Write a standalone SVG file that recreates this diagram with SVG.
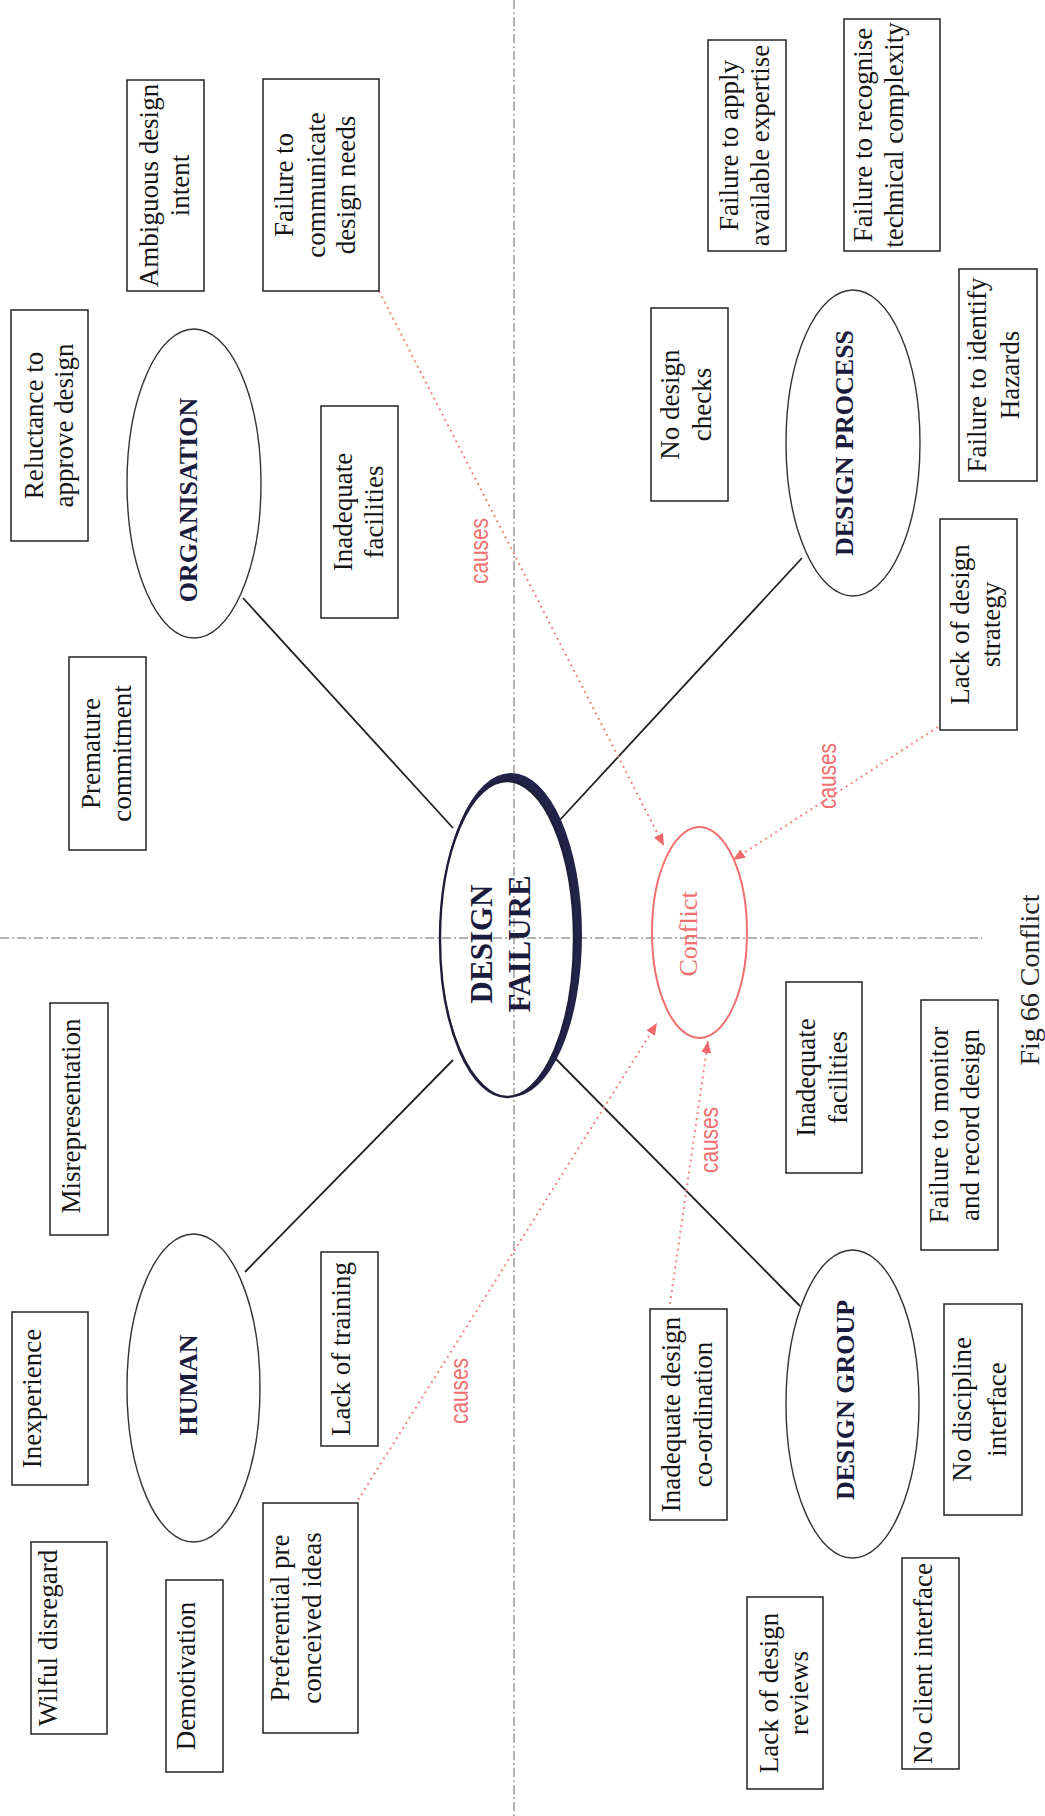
<svg xmlns="http://www.w3.org/2000/svg" width="1045" height="1816" viewBox="0 0 1045 1816">
  <style>
    .bg { fill: #ffffff; }
    .guide { stroke: #666; stroke-width: 1; stroke-dasharray: 9 3 2 3; fill: none; }
    .link { stroke: #222; stroke-width: 1.8; fill: none; }
    .cause { stroke: #f08585; stroke-width: 2; stroke-dasharray: 2 4; fill: none; }
    .box { fill: #ffffff; stroke: #222; stroke-width: 1.5; }
    .oval { fill: none; stroke: #333; stroke-width: 1.4; }
    .t { font-family: "Liberation Serif", "Times New Roman", serif; font-size: 27px; fill: #151515; text-anchor: middle; }
    .hd { font-family: "Liberation Serif", "Times New Roman", serif; font-size: 26px; font-weight: bold; fill: #1b1b3d; text-anchor: middle; }
    .red { font-family: "Liberation Sans", Arial, sans-serif; font-size: 26px; fill: #f07070; text-anchor: middle; }
    .cap { font-family: "Liberation Serif", "Times New Roman", serif; font-size: 28px; fill: #222; text-anchor: middle; }
  </style>
  <defs>
    <marker id="arrow" viewBox="0 0 12 10" refX="12" refY="5" markerWidth="12" markerHeight="10" markerUnits="userSpaceOnUse" orient="auto">
      <path d="M0,0 L12,5 L0,10 z" fill="#ee6a6a"/>
    </marker>
  </defs>

  <rect class="bg" x="0" y="0" width="1045" height="1816"/>

  <!-- quadrant guides -->
  <g id="guides">
    <line class="guide" x1="514" y1="0" x2="514" y2="1816"/>
    <line class="guide" x1="0" y1="938" x2="982" y2="938"/>
  </g>

  <!-- connectors -->
  <g id="connectors">
    <line class="link" x1="243" y1="598" x2="453" y2="828"/>
    <line class="link" x1="802" y1="558" x2="558" y2="822"/>
    <line class="link" x1="245" y1="1272" x2="453" y2="1060"/>
    <line class="link" x1="800" y1="1306" x2="555" y2="1058"/>

    <line class="cause" x1="379" y1="291" x2="664" y2="846" marker-end="url(#arrow)"/>
    <line class="cause" x1="938" y1="727" x2="733" y2="860" marker-end="url(#arrow)"/>
    <line class="cause" x1="358" y1="1500" x2="657" y2="1023" marker-end="url(#arrow)"/>
    <line class="cause" x1="670" y1="1304" x2="708" y2="1041" marker-end="url(#arrow)"/>

    <text class="red" transform="translate(488,551) rotate(-90)" textLength="66" lengthAdjust="spacingAndGlyphs">causes</text>
    <text class="red" transform="translate(836,776) rotate(-90)" textLength="66" lengthAdjust="spacingAndGlyphs">causes</text>
    <text class="red" transform="translate(718,1140) rotate(-90)" textLength="66" lengthAdjust="spacingAndGlyphs">causes</text>
    <text class="red" transform="translate(468,1391) rotate(-90)" textLength="66" lengthAdjust="spacingAndGlyphs">causes</text>
  </g>

  <!-- central node -->
  <g id="design-failure">
    <path d="M440,939 a67,158 0 1,0 134,0 a67,158 0 1,0 -134,0 Z M440,935 a71,162 0 1,0 142,0 a71,162 0 1,0 -142,0 Z" fill="#23234a" fill-rule="evenodd"/>
    <ellipse cx="507" cy="939" rx="67" ry="158" fill="none" stroke="#1e1e3a" stroke-width="2.4"/>
    <text class="hd" style="font-size:31px" transform="translate(492,944) rotate(-90)">DESIGN</text>
    <text class="hd" style="font-size:31px" transform="translate(530,944) rotate(-90)">FAILURE</text>
  </g>

  <g id="conflict">
    <ellipse cx="699.5" cy="932.5" rx="47.5" ry="105.5" fill="none" stroke="#f07070" stroke-width="2"/>
    <text class="t" style="fill:#f07070;font-size:26px" transform="translate(697,934) rotate(-90)">Conflict</text>
  </g>

  <!-- category ovals -->
  <g id="organisation">
    <ellipse class="oval" cx="194" cy="483.5" rx="67" ry="154.5"/>
    <text class="hd" transform="translate(197,500) rotate(-90)">ORGANISATION</text>
  </g>
  <g id="design-process">
    <ellipse class="oval" cx="853" cy="443" rx="67" ry="153"/>
    <text class="hd" transform="translate(853,443) rotate(-90)">DESIGN PROCESS</text>
  </g>
  <g id="human">
    <ellipse class="oval" cx="193.5" cy="1388" rx="66.5" ry="154"/>
    <text class="hd" transform="translate(197,1385) rotate(-90)">HUMAN</text>
  </g>
  <g id="design-group">
    <ellipse class="oval" cx="852.5" cy="1404" rx="66.5" ry="154"/>
    <text class="hd" transform="translate(854,1400) rotate(-90)">DESIGN GROUP</text>
  </g>

  <!-- organisation causes -->
  <g id="reluctance">
    <rect class="box" x="11" y="310" width="77" height="231"/>
    <text class="t" transform="translate(43,425.5) rotate(-90)"><tspan x="0" y="0">Reluctance to</tspan><tspan x="0" y="30">approve design</tspan></text>
  </g>
  <g id="ambiguous-intent">
    <rect class="box" x="127" y="80" width="77" height="211"/>
    <text class="t" transform="translate(158,185.5) rotate(-90)"><tspan x="0" y="0">Ambiguous design</tspan><tspan x="0" y="31">intent</tspan></text>
  </g>
  <g id="communicate-needs">
    <rect class="box" x="263" y="79" width="116" height="212"/>
    <text class="t" transform="translate(293,185) rotate(-90)"><tspan x="0" y="0">Failure to</tspan><tspan x="0" y="32">communicate</tspan><tspan x="0" y="62">design needs</tspan></text>
  </g>
  <g id="premature-commitment">
    <rect class="box" x="69" y="657" width="77" height="193"/>
    <text class="t" transform="translate(100,753.5) rotate(-90)"><tspan x="0" y="0">Premature</tspan><tspan x="0" y="31">commitment</tspan></text>
  </g>
  <g id="org-facilities">
    <rect class="box" x="321" y="406" width="77" height="212"/>
    <text class="t" transform="translate(352,512) rotate(-90)"><tspan x="0" y="0">Inadequate</tspan><tspan x="0" y="31">facilities</tspan></text>
  </g>

  <!-- human causes -->
  <g id="misrepresentation">
    <rect class="box" x="50" y="1003" width="58" height="232"/>
    <text class="t" transform="translate(80,1116) rotate(-90)">Misrepresentation</text>
  </g>
  <g id="inexperience">
    <rect class="box" x="12" y="1312" width="76" height="173"/>
    <text class="t" transform="translate(41,1398.5) rotate(-90)">Inexperience</text>
  </g>
  <g id="wilful-disregard">
    <rect class="box" x="31" y="1542" width="76" height="192"/>
    <text class="t" transform="translate(57,1638) rotate(-90)">Wilful disregard</text>
  </g>
  <g id="demotivation">
    <rect class="box" x="166" y="1580" width="57" height="192"/>
    <text class="t" transform="translate(195,1676) rotate(-90)">Demotivation</text>
  </g>
  <g id="lack-of-training">
    <rect class="box" x="321" y="1252" width="57" height="194"/>
    <text class="t" transform="translate(350,1349) rotate(-90)">Lack of training</text>
  </g>
  <g id="preconceived-ideas">
    <rect class="box" x="263" y="1503" width="95" height="230"/>
    <text class="t" transform="translate(289,1618) rotate(-90)"><tspan x="0" y="0">Preferential pre</tspan><tspan x="0" y="32">conceived ideas</tspan></text>
  </g>

  <!-- design process causes -->
  <g id="apply-expertise">
    <rect class="box" x="708" y="40" width="78" height="211"/>
    <text class="t" transform="translate(738,145.5) rotate(-90)"><tspan x="0" y="0">Failure to apply</tspan><tspan x="0" y="31">available expertise</tspan></text>
  </g>
  <g id="technical-complexity">
    <rect class="box" x="844" y="19" width="96" height="232"/>
    <text class="t" transform="translate(872,135) rotate(-90)"><tspan x="0" y="0">Failure to recognise</tspan><tspan x="0" y="31">technical complexity</tspan></text>
  </g>
  <g id="design-checks">
    <rect class="box" x="651" y="308" width="77" height="193"/>
    <text class="t" transform="translate(679,404.5) rotate(-90)"><tspan x="0" y="0">No design</tspan><tspan x="0" y="32">checks</tspan></text>
  </g>
  <g id="identify-hazards">
    <rect class="box" x="959" y="269" width="78" height="212"/>
    <text class="t" transform="translate(986,375) rotate(-90)"><tspan x="0" y="0">Failure to identify</tspan><tspan x="0" y="33">Hazards</tspan></text>
  </g>
  <g id="design-strategy">
    <rect class="box" x="940" y="519" width="77" height="211"/>
    <text class="t" transform="translate(969,624.5) rotate(-90)"><tspan x="0" y="0">Lack of design</tspan><tspan x="0" y="31">strategy</tspan></text>
  </g>

  <!-- design group causes -->
  <g id="group-facilities">
    <rect class="box" x="786" y="982" width="76" height="191"/>
    <text class="t" transform="translate(815,1077.5) rotate(-90)"><tspan x="0" y="0">Inadequate</tspan><tspan x="0" y="32">facilities</tspan></text>
  </g>
  <g id="monitor-record">
    <rect class="box" x="921" y="1000" width="77" height="250"/>
    <text class="t" transform="translate(948,1125) rotate(-90)"><tspan x="0" y="0">Failure to monitor</tspan><tspan x="0" y="31">and record design</tspan></text>
  </g>
  <g id="design-coordination">
    <rect class="box" x="650" y="1309" width="77" height="211"/>
    <text class="t" transform="translate(680,1414.5) rotate(-90)"><tspan x="0" y="0">Inadequate design</tspan><tspan x="0" y="32">co-ordination</tspan></text>
  </g>
  <g id="discipline-interface">
    <rect class="box" x="944" y="1304" width="78" height="211"/>
    <text class="t" transform="translate(971,1409.5) rotate(-90)"><tspan x="0" y="0">No discipline</tspan><tspan x="0" y="35">interface</tspan></text>
  </g>
  <g id="design-reviews">
    <rect class="box" x="747" y="1597" width="76" height="192"/>
    <text class="t" transform="translate(778,1693) rotate(-90)"><tspan x="0" y="0">Lack of design</tspan><tspan x="0" y="30">reviews</tspan></text>
  </g>
  <g id="client-interface">
    <rect class="box" x="902" y="1558" width="57" height="211"/>
    <text class="t" transform="translate(932,1663.5) rotate(-90)">No client interface</text>
  </g>

  <!-- figure caption -->
  <text class="cap" transform="translate(1039,980) rotate(-90)">Fig 66 Conflict</text>
</svg>
